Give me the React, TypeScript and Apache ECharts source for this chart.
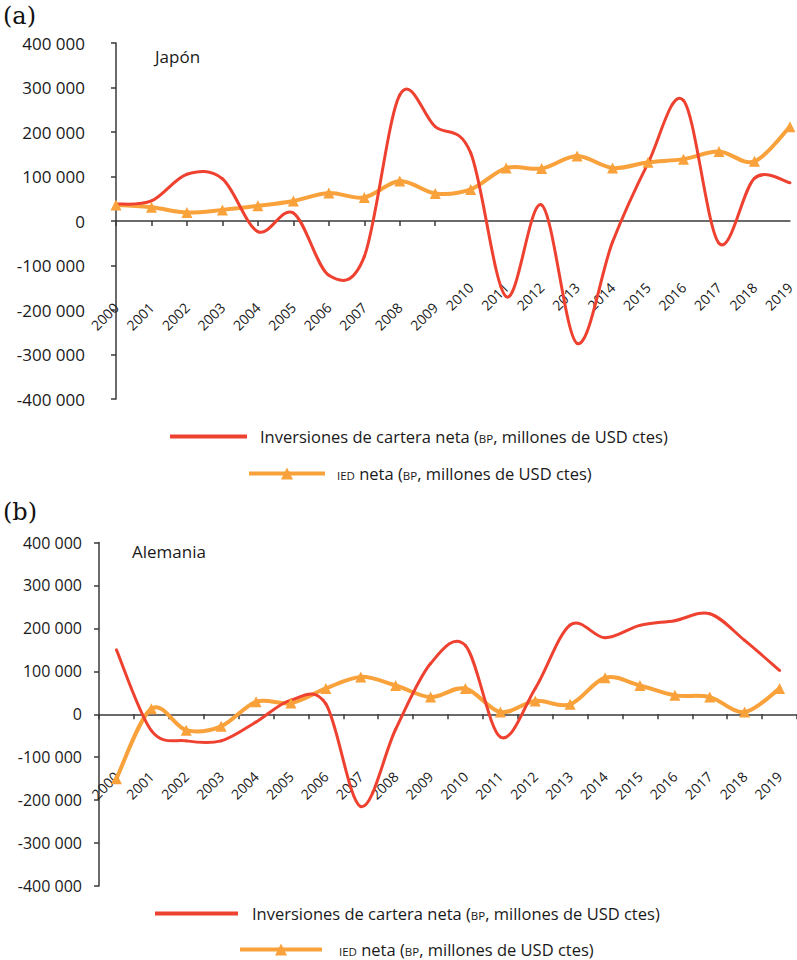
import React, { useEffect, useRef } from 'react';
import * as echarts from 'echarts';

const years = ['2000','2001','2002','2003','2004','2005','2006','2007','2008','2009','2010','2011','2012','2013','2014','2015','2016','2017','2018','2019'];

const japanCartera = [38000, 45000, 105000, 95000, -24000, 18000, -122000, -80000, 283000, 212000, 153000, -170000, 36000, -275000, -47000, 130000, 271000, -50000, 96000, 86000];
const japanIED = [36000, 31000, 19000, 25000, 34000, 45000, 63000, 53000, 90000, 62000, 71000, 119000, 118000, 146000, 119000, 132000, 139000, 156000, 134000, 212000];
const alemaniaCartera = [150000, -38000, -62000, -62000, -18000, 33000, 24000, -215000, -35000, 118000, 160000, -53000, 60000, 208000, 178000, 207000, 218000, 234000, 172000, 102000];
const alemaniaIED = [-150000, 13000, -37000, -28000, 29000, 26000, 60000, 87000, 67000, 40000, 60000, 5000, 31000, 23000, 85000, 67000, 44000, 40000, 5000, 60000];

const yTicks = { min: -400000, max: 400000, interval: 100000 };

const NAME_RED = 'Inversiones de cartera neta (BP, millones de USD ctes)';
const NAME_ORANGE = 'IED neta (BP, millones de USD ctes)';

const FONT = '"Open Sans", sans-serif';
const RED = '#EE4130';
const ORANGE = '#F9A13A';
const AXIS = '#3a3a3a';
const TEXT = '#1a1a1a';
const LEG_FS = 16.5;
const SMALL_FS = 11.5;

const fmt = (v: number) => {
  const s = Math.abs(v).toString().replace(/\B(?=(\d{3})+(?!\d))/g, ' ');
  return (v < 0 ? '-' : '') + s;
};

const richStyles = (gap: number) => ({
  g: { fontSize: LEG_FS, fontFamily: FONT, color: TEXT, padding: [0, 0, 0, gap] },
  t: { fontSize: LEG_FS, fontFamily: FONT, color: TEXT },
  s: { fontSize: SMALL_FS, fontFamily: FONT, color: TEXT, padding: [3, 0, 0, 0] },
  sg: { fontSize: SMALL_FS, fontFamily: FONT, color: TEXT, padding: [3, 0, 0, gap] },
});

const legendFmt = (name: string) =>
  name === NAME_RED
    ? '{g|Inversiones de cartera neta (}{s|BP}{t|, millones de USD ctes)}'
    : '{sg|IED}{t| neta (}{s|BP}{t|, millones de USD ctes)}';

// Excel-like smoothed line: cubic Bezier segments (Catmull-Rom), positioned via api.coord
const smoothRender = (values: number[], color: string, width: number) => (params: any, api: any) => {
  const i = params.dataIndex;
  const n = values.length;
  if (i >= n - 1) return { type: 'group', children: [] };
  const p = (k: number) => {
    const c = Math.max(0, Math.min(n - 1, k));
    return api.coord([c, values[c]]);
  };
  const p0 = p(i - 1), p1 = p(i), p2 = p(i + 1), p3 = p(i + 2);
  return {
    type: 'bezierCurve',
    shape: {
      x1: p1[0], y1: p1[1], x2: p2[0], y2: p2[1],
      cpx1: p1[0] + (p2[0] - p0[0]) / 6, cpy1: p1[1] + (p2[1] - p0[1]) / 6,
      cpx2: p2[0] - (p3[0] - p1[0]) / 6, cpy2: p2[1] - (p3[1] - p1[1]) / 6,
    },
    style: { stroke: color, lineWidth: width, fill: 'none', lineCap: 'round' },
  };
};

export default function App() {
  const ref = useRef<HTMLDivElement>(null);
  useEffect(() => {
    document.body.style.margin = '0';
    if (!ref.current) return;
    const chart = echarts.init(ref.current, undefined, { renderer: 'svg' });
    const axisLine = { lineStyle: { color: AXIS, width: 1.5 } };
    const xLabel = { rotate: 45, fontSize: 14, fontFamily: FONT, color: TEXT };
    const yLabel = { fontSize: 17, fontFamily: FONT, color: TEXT, formatter: fmt };
    const tick = { show: true, length: 5, lineStyle: { color: AXIS, width: 1.5 } };

    const curve = (name: string, values: number[], xi: number, yi: number, color: string, width: number, z: number) => ({
      name, type: 'custom', xAxisIndex: xi, yAxisIndex: yi, z,
      data: values.map((v, i) => [i, v]), encode: { x: 0, y: 1 },
      itemStyle: { color }, renderItem: smoothRender(values, color, width), silent: true,
    });
    const markers = (values: number[], xi: number, yi: number) => ({
      name: NAME_ORANGE, type: 'line', xAxisIndex: xi, yAxisIndex: yi, data: values, z: 5,
      symbol: 'triangle', symbolSize: 11, showSymbol: true,
      lineStyle: { color: ORANGE, width: 4, opacity: 0 }, itemStyle: { color: ORANGE },
    });

    chart.setOption({
      animation: false,
      backgroundColor: '#fff',
      grid: [
        { left: 116, top: 43, width: 677, height: 356 },
        { left: 99, top: 542.5, width: 698, height: 343.5 },
      ],
      xAxis: [
        {
          type: 'category', gridIndex: 0, data: years, boundaryGap: false,
          axisLine: { ...axisLine, onZero: true }, axisTick: tick,
          axisLabel: { ...xLabel, margin: -94, interval: (i: number) => i < 10 },
          splitLine: { show: false },
        },
        {
          type: 'category', gridIndex: 0, data: years, boundaryGap: false, position: 'bottom',
          axisLine: { show: false, onZero: true }, axisTick: { show: false },
          axisLabel: { ...xLabel, margin: -114, interval: (i: number) => i >= 10 },
          splitLine: { show: false },
        },
        {
          type: 'category', gridIndex: 1, data: years, boundaryGap: true,
          axisLine: { ...axisLine, onZero: true }, axisTick: tick,
          axisLabel: { ...xLabel, margin: -112, interval: 0 },
          splitLine: { show: false },
        },
      ],
      yAxis: [
        {
          type: 'value', gridIndex: 0, ...yTicks,
          axisLine: { show: true, ...axisLine }, axisTick: tick,
          axisLabel: { ...yLabel, margin: 31 }, splitLine: { show: false },
        },
        {
          type: 'value', gridIndex: 1, ...yTicks,
          axisLine: { show: true, ...axisLine }, axisTick: tick,
          axisLabel: { ...yLabel, fontSize: 16, margin: 17 }, splitLine: { show: false },
        },
      ],
      legend: [
        {
          data: [NAME_RED], left: 170, top: 428, padding: 0, itemWidth: 77, itemHeight: 4, icon: 'rect',
          itemStyle: { color: RED }, formatter: legendFmt, textStyle: { rich: richStyles(8) }, selectedMode: false,
        },
        {
          data: [NAME_ORANGE], left: 247, top: 465, padding: 0, itemWidth: 76, itemHeight: 15,
          lineStyle: { width: 4, color: ORANGE, opacity: 1 }, itemStyle: { color: ORANGE },
          formatter: legendFmt, textStyle: { rich: richStyles(7) }, selectedMode: false,
        },
        {
          data: [NAME_RED], left: 155, top: 905, padding: 0, itemWidth: 83, itemHeight: 4, icon: 'rect',
          itemStyle: { color: RED }, formatter: legendFmt, textStyle: { rich: richStyles(9) }, selectedMode: false,
        },
        {
          data: [NAME_ORANGE], left: 238, top: 941, padding: 0, itemWidth: 82, itemHeight: 15,
          lineStyle: { width: 4, color: ORANGE, opacity: 1 }, itemStyle: { color: ORANGE },
          formatter: legendFmt, textStyle: { rich: richStyles(12) }, selectedMode: false,
        },
      ],
      graphic: [
        { type: 'text', left: 3, top: 4, style: { text: '(a)', font: '24px "DejaVu Serif", serif', fill: '#111' } },
        { type: 'text', left: 155, top: 48, style: { text: 'Japón', font: '17px "Open Sans", sans-serif', fill: TEXT } },
        { type: 'text', left: 3, top: 500, style: { text: '(b)', font: '24px "DejaVu Serif", serif', fill: '#111' } },
        { type: 'text', left: 132, top: 543, style: { text: 'Alemania', font: '17px "Open Sans", sans-serif', fill: TEXT } },
      ],
      series: [
        markers(japanIED, 0, 0),
        markers(alemaniaIED, 2, 1),
        curve(NAME_ORANGE, japanIED, 0, 0, ORANGE, 4, 2),
        curve(NAME_RED, japanCartera, 0, 0, RED, 3, 3),
        curve(NAME_ORANGE, alemaniaIED, 2, 1, ORANGE, 4, 2),
        curve(NAME_RED, alemaniaCartera, 2, 1, RED, 3, 3),
      ],
    });
    return () => chart.dispose();
  }, []);
  return <div ref={ref} style={{ width: 797, height: 960 }} />;
}
